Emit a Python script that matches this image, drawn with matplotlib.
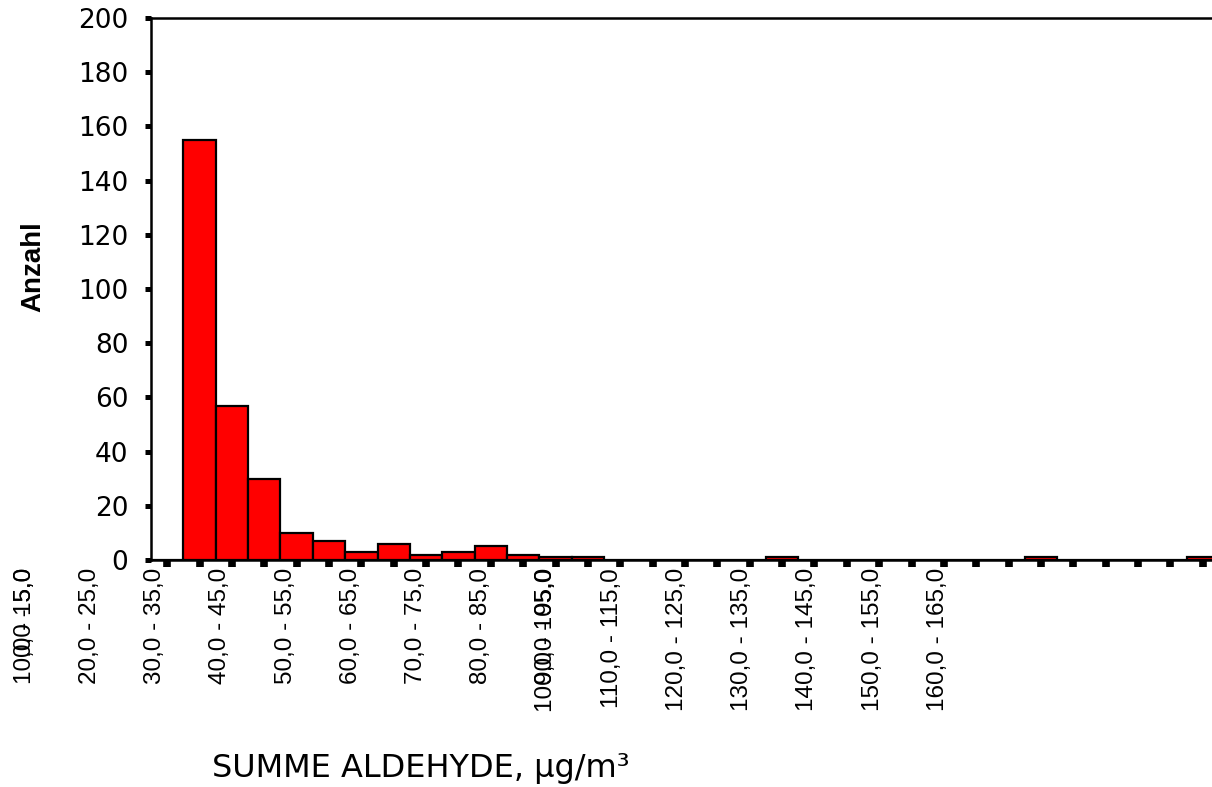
import matplotlib
matplotlib.use("Agg")
import matplotlib.pyplot as plt
import matplotlib.transforms as mtransforms

# class width 5, lower bounds 0 .. 160
bin_lower = [5 * k for k in range(33)]
counts = [0, 155, 57, 30, 10, 7, 3, 6, 2, 3, 5, 2, 1, 1, 0, 0, 0,
          0, 0, 1, 0, 0, 0, 0, 0, 0, 0, 1, 0, 0, 0, 0, 1]

# category labels as printed under the axis (every second class)
tick_labels = ["0,0 - 5,0", "10,0 - 15,0", "20,0 - 25,0", "30,0 - 35,0",
               "40,0 - 45,0", "50,0 - 55,0", "60,0 - 65,0", "70,0 - 75,0",
               "80,0 - 85,0", "90,0 - 95,0", "100,0 - 105,0", "110,0 - 115,0",
               "120,0 - 125,0", "130,0 - 135,0", "140,0 - 145,0",
               "150,0 - 155,0", "160,0 - 165,0"]
# label slot under the axis (the original export squeezes some labels together)
label_slots = [0, 0, 1, 2, 3, 4, 5, 6, 7, 8, 8, 9, 10, 11, 12, 13, 14]

W, H = 1212, 787
fig = plt.figure(figsize=(W / 100, H / 100), dpi=100)
ax = fig.add_axes([151 / W, 1 - 560 / H, 1068 / W, 542 / H])

idx = list(range(len(bin_lower)))
ax.bar([i + 0.5 for i in idx], counts, width=1.0, color="#ff0000",
       edgecolor="black", linewidth=1.6, zorder=2)

ax.set_xlim(0, len(bin_lower))
ax.set_ylim(0, 200)
ax.set_yticks(range(0, 201, 20))
ax.set_xticks([i + 0.5 for i in idx])
ax.tick_params(axis="x", direction="out", length=5, width=5.5, labelbottom=False)
ax.tick_params(axis="y", direction="out", length=4.3, width=3.6, pad=12,
               labelsize=19)
for lbl in ax.get_yticklabels():
    lbl.set_family("DejaVu Sans")

for side in ["left", "top", "bottom"]:
    ax.spines[side].set_linewidth(1.8)
ax.spines["right"].set_visible(False)

# labels overlap on purpose where the original chart overlaps them
trans = mtransforms.blended_transform_factory(ax.transData, ax.transAxes)
for text, slot in zip(tick_labels, label_slots):
    ax.text(-3.9 + 2.015 * slot, -0.015, text, rotation=90, ha="center",
            va="top", fontsize=17.5, family=["Liberation Sans", "DejaVu Sans"],
            transform=trans, clip_on=False)

ax.set_ylabel("Anzahl", fontsize=20, fontweight="bold",
              family=["Liberation Sans", "DejaVu Sans"])
ax.yaxis.set_label_coords(-0.098, 0.541)

ax.set_xlabel("SUMME ALDEHYDE, µg/m³", fontsize=23, family="DejaVu Sans")
ax.xaxis.set_label_coords(0.2528, -0.40)
ax.xaxis.label.set_va("baseline")

fig.savefig("out.png", dpi=100)
